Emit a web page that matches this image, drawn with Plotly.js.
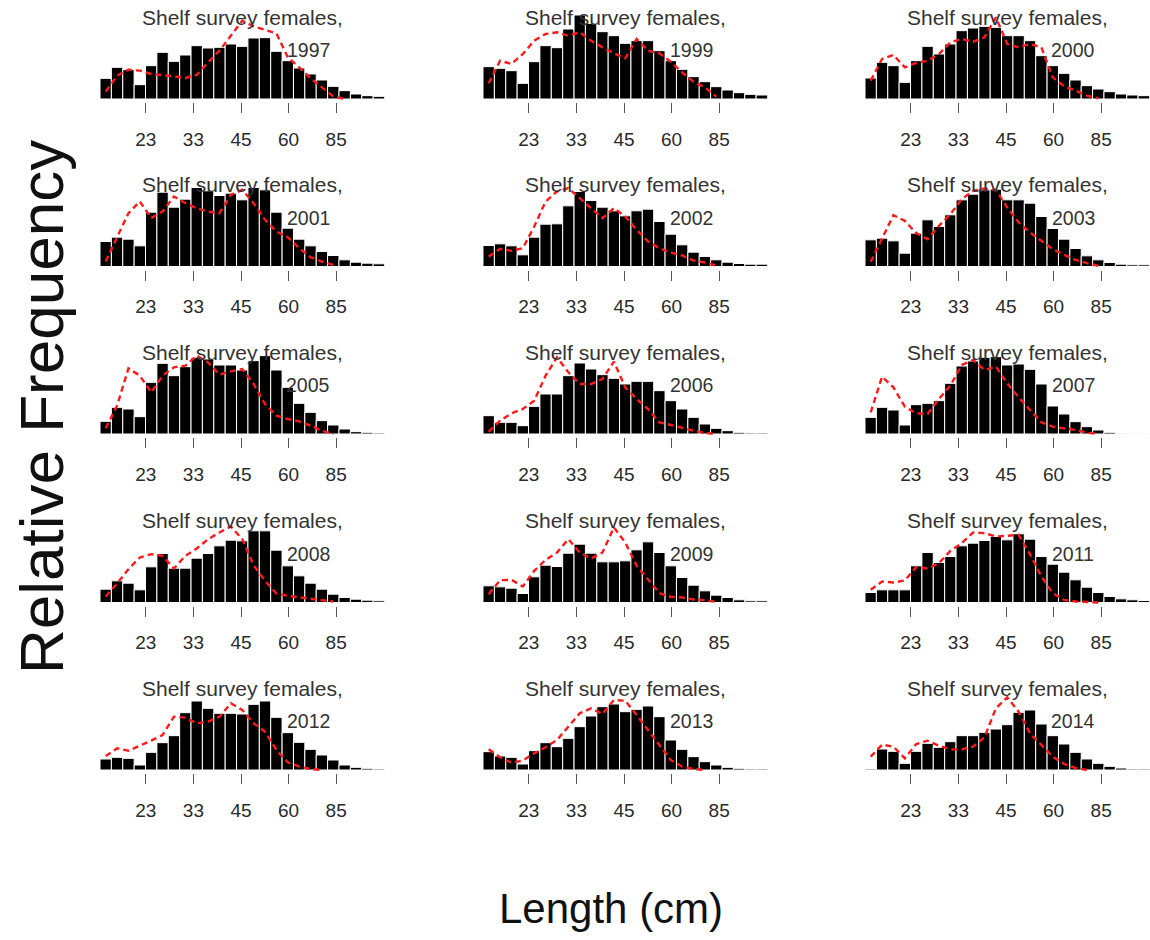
<!DOCTYPE html>
<html><head><meta charset="utf-8">
<script src="https://cdn.plot.ly/plotly-3.0.1.min.js"></script>
<style>html,body{margin:0;padding:0;background:#fff}</style>
</head><body><div id="chart" style="width:1150px;height:940px"></div>
<script>
// Length bins (bar index) and labelled ticks
const binIndex = [1,2,3,4,5,6,7,8,9,10,11,12,13,14,15,16,17,18,19,20,21,22,23,24,25];
const tickPositions = [4.53, 8.71, 12.89, 17.07, 21.25];
const tickLabels = ['23','33','45','60','85'];
const years = ['1997','1999','2000','2001','2002','2003','2005','2006','2007','2008','2009','2011','2012','2013','2014'];

// Observed (bars) and expected (red dashed) relative frequencies
const obs1997 = [0.062,0.095,0.088,0.043,0.100,0.140,0.113,0.132,0.160,0.153,0.155,0.165,0.158,0.183,0.184,0.143,0.115,0.093,0.075,0.057,0.038,0.025,0.015,0.010,0.008];
const exp1997 = [0.022,0.070,0.088,0.085,0.075,0.072,0.068,0.063,0.072,0.110,0.145,0.190,0.235,0.218,0.207,0.197,0.125,0.095,0.062,0.035,0.008,0.000];
const obs1999 = [0.097,0.092,0.085,0.047,0.112,0.160,0.154,0.210,0.252,0.227,0.202,0.190,0.167,0.175,0.175,0.145,0.115,0.089,0.067,0.052,0.037,0.027,0.019,0.014,0.012];
const exp1999 = [0.047,0.115,0.105,0.135,0.175,0.195,0.200,0.190,0.200,0.175,0.155,0.137,0.122,0.180,0.145,0.137,0.112,0.080,0.052,0.035,0.007];
const obs2000 = [0.063,0.110,0.100,0.050,0.115,0.158,0.135,0.165,0.205,0.213,0.218,0.215,0.190,0.190,0.175,0.130,0.100,0.077,0.057,0.040,0.030,0.022,0.015,0.012,0.010];
const exp2000 = [0.055,0.120,0.132,0.095,0.108,0.115,0.135,0.170,0.180,0.172,0.185,0.245,0.165,0.155,0.165,0.155,0.065,0.038,0.025,0.010,0.002];
const obs2001 = [0.075,0.088,0.082,0.062,0.163,0.223,0.178,0.202,0.237,0.227,0.213,0.220,0.200,0.237,0.230,0.163,0.115,0.082,0.062,0.045,0.033,0.020,0.013,0.010,0.008];
const exp2001 = [0.015,0.090,0.160,0.195,0.145,0.165,0.210,0.190,0.175,0.165,0.160,0.215,0.230,0.190,0.140,0.105,0.088,0.055,0.028,0.015,0.005];
const obs2002 = [0.063,0.068,0.062,0.035,0.088,0.127,0.128,0.182,0.225,0.198,0.178,0.167,0.152,0.167,0.172,0.135,0.097,0.065,0.043,0.030,0.020,0.013,0.009,0.007,0.007];
const exp2002 = [0.030,0.053,0.047,0.055,0.120,0.195,0.225,0.235,0.205,0.175,0.145,0.175,0.150,0.110,0.075,0.055,0.042,0.033,0.018,0.012,0.003];
const obs2003 = [0.080,0.085,0.077,0.040,0.100,0.140,0.120,0.155,0.200,0.217,0.230,0.232,0.200,0.200,0.190,0.150,0.114,0.082,0.054,0.032,0.020,0.012,0.007,0.005,0.005];
const exp2003 = [0.014,0.082,0.154,0.137,0.100,0.082,0.122,0.157,0.202,0.227,0.234,0.230,0.177,0.132,0.102,0.077,0.052,0.035,0.020,0.010,0.002];
const obs2005 = [0.038,0.080,0.075,0.052,0.155,0.212,0.175,0.202,0.230,0.225,0.207,0.207,0.192,0.220,0.235,0.192,0.140,0.092,0.065,0.040,0.027,0.015,0.007,0.005,0.003];
const exp2005 = [0.017,0.085,0.197,0.175,0.125,0.175,0.200,0.205,0.235,0.215,0.178,0.188,0.195,0.150,0.090,0.055,0.045,0.038,0.025,0.010,0.000];
const obs2006 = [0.055,0.035,0.035,0.025,0.083,0.120,0.120,0.175,0.213,0.195,0.178,0.167,0.150,0.158,0.158,0.130,0.100,0.075,0.050,0.030,0.017,0.010,0.005,0.003,0.003];
const exp2006 = [0.007,0.040,0.062,0.075,0.100,0.175,0.230,0.185,0.150,0.150,0.165,0.217,0.140,0.105,0.075,0.035,0.027,0.018,0.010,0.003,0.000];
const obs2007 = [0.050,0.080,0.072,0.027,0.088,0.092,0.100,0.152,0.204,0.219,0.230,0.232,0.207,0.210,0.194,0.150,0.084,0.060,0.037,0.022,0.012,0.005,0.002,0.001,0.001];
const exp2007 = [0.065,0.172,0.140,0.082,0.062,0.060,0.105,0.145,0.207,0.222,0.192,0.202,0.152,0.110,0.072,0.035,0.022,0.018,0.012,0.004,0.000];
const obs2008 = [0.040,0.065,0.058,0.038,0.107,0.147,0.103,0.103,0.133,0.147,0.170,0.187,0.185,0.215,0.215,0.157,0.110,0.080,0.058,0.040,0.025,0.015,0.010,0.007,0.005];
const exp2008 = [0.018,0.057,0.100,0.135,0.145,0.140,0.102,0.140,0.162,0.190,0.210,0.228,0.190,0.112,0.065,0.027,0.020,0.015,0.010,0.007,0.003];
const obs2009 = [0.050,0.047,0.043,0.027,0.077,0.112,0.108,0.148,0.175,0.148,0.122,0.122,0.125,0.158,0.182,0.150,0.110,0.075,0.052,0.035,0.022,0.015,0.008,0.005,0.005];
const exp2009 = [0.025,0.067,0.068,0.048,0.095,0.128,0.150,0.190,0.150,0.132,0.150,0.225,0.180,0.110,0.070,0.028,0.017,0.015,0.009,0.007,0.002];
const obs2011 = [0.030,0.038,0.038,0.038,0.110,0.150,0.120,0.138,0.170,0.178,0.186,0.198,0.188,0.206,0.190,0.138,0.115,0.091,0.068,0.046,0.030,0.018,0.011,0.008,0.006];
const exp2011 = [0.038,0.063,0.060,0.066,0.106,0.102,0.118,0.155,0.178,0.210,0.208,0.198,0.200,0.203,0.145,0.078,0.028,0.008,0.003,0.002,0.000];
const obs2012 = [0.033,0.038,0.035,0.015,0.053,0.082,0.103,0.172,0.207,0.185,0.170,0.170,0.168,0.197,0.207,0.158,0.112,0.083,0.062,0.045,0.030,0.015,0.008,0.005,0.003];
const exp2012 = [0.042,0.065,0.058,0.072,0.088,0.105,0.160,0.157,0.140,0.145,0.160,0.200,0.180,0.140,0.115,0.060,0.023,0.010,0.003,0.000];
const obs2013 = [0.055,0.042,0.038,0.018,0.058,0.082,0.070,0.095,0.130,0.162,0.190,0.198,0.175,0.182,0.192,0.160,0.090,0.062,0.040,0.025,0.015,0.008,0.005,0.003,0.003];
const exp2013 = [0.062,0.038,0.022,0.028,0.050,0.068,0.090,0.130,0.170,0.185,0.168,0.210,0.208,0.165,0.120,0.072,0.030,0.010,0.003,0.000];
const obs2014 = [0.003,0.063,0.056,0.020,0.056,0.080,0.068,0.085,0.103,0.103,0.113,0.123,0.136,0.173,0.180,0.138,0.103,0.078,0.053,0.033,0.020,0.011,0.006,0.003,0.003];
const exp2014 = [0.040,0.076,0.070,0.035,0.078,0.088,0.073,0.062,0.062,0.070,0.098,0.185,0.218,0.175,0.110,0.075,0.040,0.018,0.006,0.000];

const observed = [obs1997,obs1999,obs2000,obs2001,obs2002,obs2003,obs2005,obs2006,obs2007,obs2008,obs2009,obs2011,obs2012,obs2013,obs2014];
const expected = [exp1997,exp1999,exp2000,exp2001,exp2002,exp2003,exp2005,exp2006,exp2007,exp2008,exp2009,exp2011,exp2012,exp2013,exp2014];

// ---- layout geometry (pixels) ----
const W = 1150, H = 940;
const colLeft = [100, 483, 865];
const colWidth = 284.5;
const rowBase = [99, 266.5, 434, 602.5, 770];
const below = 3, above = 87;     // px below/above the bar baseline in each panel
const pxPerUnit = 1000/3;        // scale (px per unit of relative frequency)
const FONT = 'Liberation Sans, Arial, Helvetica, sans-serif';

const traces = [];
const layout = {
  width: W, height: H,
  margin: {l:0, r:0, t:0, b:0},
  paper_bgcolor: '#ffffff', plot_bgcolor: 'rgba(0,0,0,0)',
  showlegend: false, bargap: 0,
  annotations: []
};

years.forEach((yr, k) => {
  const r = Math.floor(k/3), c = k % 3;
  const xs = k === 0 ? '' : String(k+1);
  const B = rowBase[r];
  const x0 = colLeft[c], x1 = colLeft[c] + colWidth;
  traces.push({
    type: 'bar', x: binIndex, y: observed[k], xaxis: 'x'+xs, yaxis: 'y'+xs,
    marker: {color: '#000000', line: {color: '#ffffff', width: 1}},
    hoverinfo: 'skip'
  });
  traces.push({
    type: 'scatter', mode: 'lines', x: binIndex.slice(0, expected[k].length), y: expected[k],
    xaxis: 'x'+xs, yaxis: 'y'+xs,
    line: {color: '#ff1a1a', width: 2.4, dash: '6px,4px'},
    hoverinfo: 'skip'
  });
  layout['xaxis'+xs] = {
    domain: [x0/W, x1/W], anchor: 'y'+xs,
    range: [0.5, 25.5], fixedrange: true,
    showgrid: false, zeroline: false, showline: false,
    tickmode: 'array', tickvals: tickPositions, ticktext: tickLabels,
    ticks: 'outside', ticklen: 10, tickwidth: 1, tickcolor: '#555555',
    ticklabelstandoff: 10,
    tickfont: {family: FONT, size: 19, color: '#2a2a2a'}
  };
  layout['yaxis'+xs] = {
    domain: [1 - (B+below)/H, 1 - (B-above)/H], anchor: 'x'+xs,
    range: [-below/pxPerUnit, above/pxPerUnit], fixedrange: true,
    visible: false
  };
  const cx = (x0 + x1) / 2;
  layout.annotations.push({
    text: 'Shelf survey females,', xref: 'paper', yref: 'paper',
    x: cx/W, y: 1 - (B-82)/H, xanchor: 'center', yanchor: 'middle', showarrow: false,
    font: {family: FONT, size: 21, color: '#333333'}
  });
  layout.annotations.push({
    text: yr, xref: 'paper', yref: 'paper',
    x: (cx+66)/W, y: 1 - (B-49)/H, xanchor: 'center', yanchor: 'middle', showarrow: false,
    font: {family: FONT, size: 19.5, color: '#333333'}
  });
});

layout.annotations.push({
  text: 'Relative Frequency', xref: 'paper', yref: 'paper',
  x: 42/W, y: 1 - 407/H, xanchor: 'center', yanchor: 'middle', textangle: -90, showarrow: false,
  font: {family: FONT, size: 62, color: '#111111'}
});
layout.annotations.push({
  text: 'Length (cm)', xref: 'paper', yref: 'paper',
  x: 611/W, y: 1 - 908/H, xanchor: 'center', yanchor: 'middle', showarrow: false,
  font: {family: FONT, size: 42, color: '#111111'}
});

Plotly.newPlot('chart', traces, layout, {staticPlot: true, displayModeBar: false});
</script>
</body></html>
